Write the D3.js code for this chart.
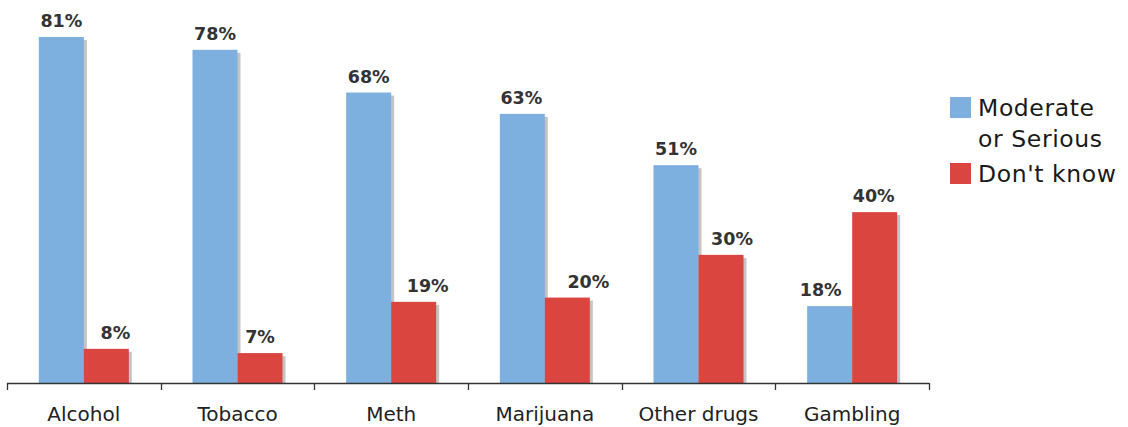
<!DOCTYPE html>
<html><head><meta charset="utf-8">
<script src="https://cdn.jsdelivr.net/npm/d3@7"></script>
<style>body{margin:0;background:#fff}svg{display:block}</style>
</head><body>
<script>
const categories = ["Alcohol","Tobacco","Meth","Marijuana","Other drugs","Gambling"];
const seriesNames = ["Moderate\nor Serious","Don't know"];
const moderateSerious = [81,78,68,63,51,18];
const dontKnow = [8,7,19,20,30,40];
const colors = ["#7dafdf","#db4540"];
// label nudges (px) as placed in the original chart
const nudgeModerate = [0,0,0,-1,0,-9];
const nudgeDontKnow = [9,0,14,21,11,-1];

const W=1128,H=427;
const svg=d3.select("body").append("svg").attr("width",W).attr("height",H);
const font="DejaVu Sans, Verdana, sans-serif";

const x=d3.scaleBand().domain(categories).range([7,929]).padding(0);
const y=d3.scaleLinear().domain([0,81]).range([383,37]);
const barW=45;
const x1=d3.scaleBand().domain([0,1]).range([-barW,barW]).padding(0);

const data=categories.map((c,i)=>[moderateSerious[i],dontKnow[i]]);
const nudges=[nudgeModerate,nudgeDontKnow];
const g=svg.append("g");
categories.forEach((c,i)=>{
  const cx=x(c)+x.bandwidth()/2;
  [0,1].forEach(s=>{
    const v=data[i][s];
    const bx=cx+x1(s), by=y(v), bh=y(0)-y(v);
    g.append("rect").attr("x",bx+3).attr("y",by+3).attr("width",x1.bandwidth()).attr("height",bh-3).attr("fill","#c4c4c4");
    g.append("rect").attr("x",bx).attr("y",by).attr("width",x1.bandwidth()).attr("height",bh).attr("fill",colors[s]);
  });
});
categories.forEach((c,i)=>{
  const cx=x(c)+x.bandwidth()/2;
  [0,1].forEach(s=>{
    const v=data[i][s];
    g.append("text").attr("x",cx+x1(s)+x1.bandwidth()/2+nudges[s][i]).attr("y",y(v)-10)
      .attr("text-anchor","middle").attr("font-family",font).attr("font-weight","bold")
      .attr("font-size",17.5).attr("fill","#333").text(v+"%");
  });
});

// axis
const ax=svg.append("g").attr("transform","translate(0,383)")
  .call(d3.axisBottom(x).tickSize(0).tickPadding(0));
ax.select(".domain").remove();
ax.selectAll(".tick line").remove();
ax.selectAll(".tick text").attr("font-family",font).attr("font-size",20).attr("fill","#222").attr("dy",0).attr("y",38);
const bounds=[...categories.map(c=>x(c)),929];
svg.append("line").attr("x1",7).attr("x2",929).attr("y1",383.5).attr("y2",383.5).attr("stroke","#333").attr("stroke-width",1.3);
svg.selectAll(".bt").data(bounds).join("line").attr("x1",d=>Math.round(d)+0.5).attr("x2",d=>Math.round(d)+0.5)
  .attr("y1",383).attr("y2",390).attr("stroke","#333").attr("stroke-width",1.3);

// legend
const lg=svg.append("g");
const legY=[97,163];
seriesNames.forEach((n,s)=>{
  lg.append("rect").attr("x",950).attr("y",legY[s]).attr("width",21).attr("height",21).attr("fill",colors[s]);
  n.split("\n").forEach((ln,k)=>{
    lg.append("text").attr("x",978).attr("y",legY[s]+19+k*30.7).attr("font-family",font)
      .attr("font-size",23.5).attr("letter-spacing",0.6).attr("fill","#1a1a1a").text(ln);
  });
});
</script>
</body></html>
